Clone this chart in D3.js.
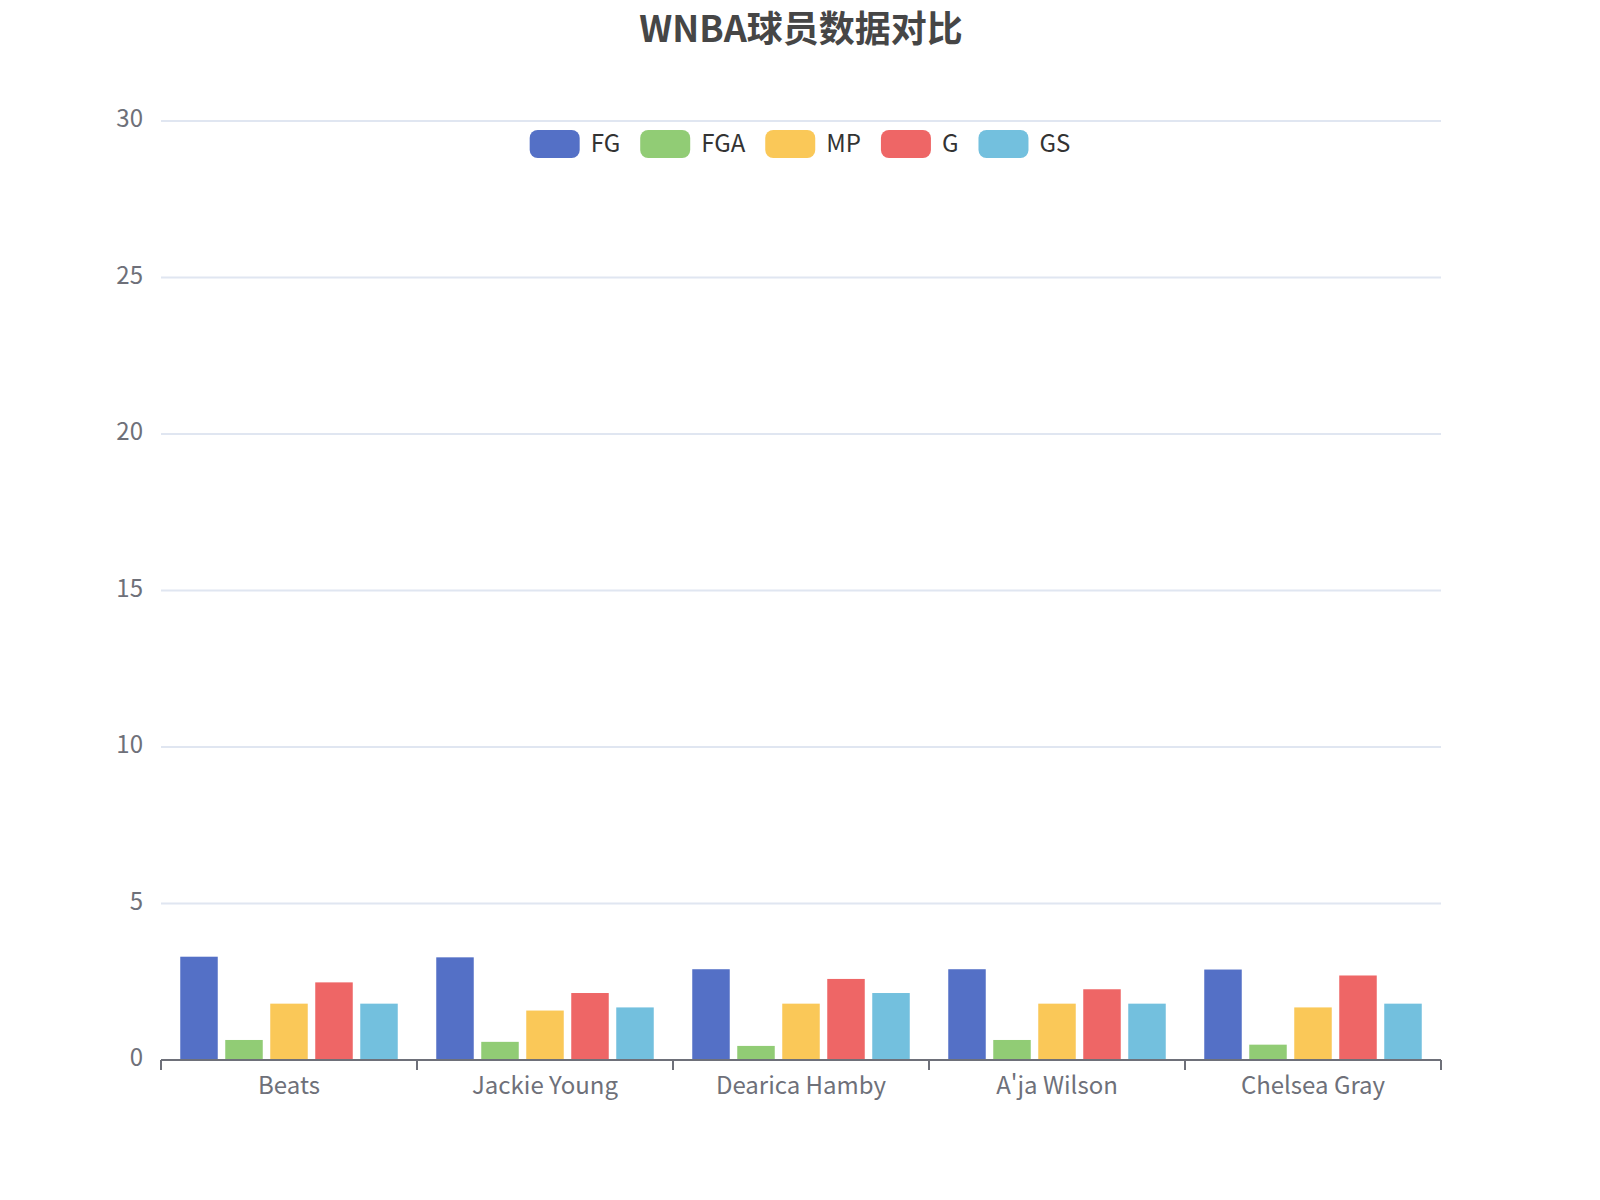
<!doctype html>
<html lang="zh">
<head>
<meta charset="UTF-8">
<title>WNBA球员数据对比</title>
<script src="https://d3js.org/d3.v7.min.js"></script>
<style>
  body { margin: 0; background: #fff; }
  text { font-family: "Noto Sans CJK SC", "Noto Sans", sans-serif; }
</style>
</head>
<body>
<script>
  // data
  var players = ["Beats", "Jackie Young", "Dearica Hamby", "A'ja Wilson", "Chelsea Gray"];
  var seriesNames = ["FG", "FGA", "MP", "G", "GS"];
  var FG  = [3.30, 3.28, 2.90, 2.90, 2.89];
  var FGA = [0.64, 0.58, 0.45, 0.64, 0.49];
  var MP  = [1.80, 1.58, 1.80, 1.80, 1.68];
  var G   = [2.48, 2.14, 2.59, 2.26, 2.70];
  var GS  = [1.80, 1.68, 2.14, 1.80, 1.80];
  var yTicks = [0, 5, 10, 15, 20, 25, 30];
  var colors = ["#5470c6", "#91cc75", "#fac858", "#ee6666", "#73c0de"];

  var seriesValues = [FG, FGA, MP, G, GS];

  var width = 1600, height = 1200;
  var plotLeft = 161, plotRight = 1441, plotTop = 121, plotBottom = 1060;

  var svg = d3.select("body").append("svg")
      .attr("width", width)
      .attr("height", height);

  var x0 = d3.scaleBand()
      .domain(players)
      .range([plotLeft, plotRight])
      .padding(0);

  var outer = 19.25;
  var x1 = d3.scaleBand()
      .domain(seriesNames)
      .range([outer, x0.bandwidth() - outer])
      .paddingInner(1 / 6)
      .paddingOuter(0);

  var y = d3.scaleLinear()
      .domain([0, 30])
      .range([plotBottom, plotTop]);

  // grid lines
  svg.append("g")
      .selectAll("line")
      .data(yTicks.filter(function(d) { return d > 0; }))
      .enter().append("line")
      .attr("x1", plotLeft)
      .attr("x2", plotRight)
      .attr("y1", function(d) { return y(d); })
      .attr("y2", function(d) { return y(d); })
      .attr("stroke", "#E0E6F1")
      .attr("stroke-width", 2);

  // y labels
  svg.append("g")
      .selectAll("text")
      .data(yTicks)
      .enter().append("text")
      .attr("x", plotLeft - 18)
      .attr("y", function(d) { return y(d); })
      .attr("dy", "0.25em")
      .attr("text-anchor", "end")
      .attr("fill", "#6E7079")
      .attr("font-size", 24)
      .text(function(d) { return d; });

  // bars
  var groups = svg.append("g")
      .selectAll("g")
      .data(players)
      .enter().append("g")
      .attr("transform", function(d) { return "translate(" + x0(d) + ",0)"; });

  groups.selectAll("rect")
      .data(function(p, i) {
        return seriesNames.map(function(s, j) { return { s: s, v: seriesValues[j][i], c: colors[j] }; });
      })
      .enter().append("rect")
      .attr("x", function(d) { return x1(d.s); })
      .attr("width", x1.bandwidth())
      .attr("y", function(d) { return y(d.v); })
      .attr("height", function(d) { return plotBottom - y(d.v); })
      .attr("fill", function(d) { return d.c; });

  // x axis
  var axisG = svg.append("g")
      .attr("transform", "translate(0," + plotBottom + ")");
  axisG.append("line")
      .attr("x1", plotLeft).attr("x2", plotRight)
      .attr("stroke", "#6E7079").attr("stroke-width", 2);
  // boundary ticks between categories
  var boundaries = players.map(function(p) { return x0(p); }).concat([plotRight]);
  axisG.selectAll(".tk")
      .data(boundaries)
      .enter().append("line")
      .attr("class", "tk")
      .attr("x1", function(d) { return d; })
      .attr("x2", function(d) { return d; })
      .attr("y1", 0).attr("y2", 10)
      .attr("stroke", "#6E7079").attr("stroke-width", 2);
  axisG.selectAll(".lb")
      .data(players)
      .enter().append("text")
      .attr("class", "lb")
      .attr("x", function(d) { return x0(d) + x0.bandwidth() / 2; })
      .attr("y", 34)
      .attr("text-anchor", "middle")
      .attr("fill", "#6E7079")
      .attr("font-size", 24)
      .text(function(d) { return d; });

  // title
  svg.append("text")
      .attr("x", 801)
      .attr("y", 42)
      .attr("text-anchor", "middle")
      .attr("font-size", 36)
      .attr("font-weight", "bold")
      .attr("fill", "#464646")
      .text("WNBA球员数据对比");

  // legend
  var legend = svg.append("g");
  var items = legend.selectAll("g")
      .data(seriesNames)
      .enter().append("g");
  items.append("rect")
      .attr("width", 50).attr("height", 28)
      .attr("rx", 8).attr("ry", 8)
      .attr("y", 130)
      .attr("fill", function(d, i) { return colors[i]; });
  items.append("text")
      .attr("x", 61)
      .attr("y", 144)
      .attr("dy", "0.35em")
      .attr("font-size", 24)
      .attr("fill", "#333")
      .text(function(d) { return d; });

  var offs = [], pos = 0;
  items.each(function(d, i) {
    var w = 61 + this.querySelector("text").getComputedTextLength();
    offs.push(pos);
    pos += w + 20;
  });
  var total = pos - 20;
  var start = 800 - total / 2;
  items.attr("transform", function(d, i) { return "translate(" + (start + offs[i]) + ",0)"; });
</script>
</body>
</html>
